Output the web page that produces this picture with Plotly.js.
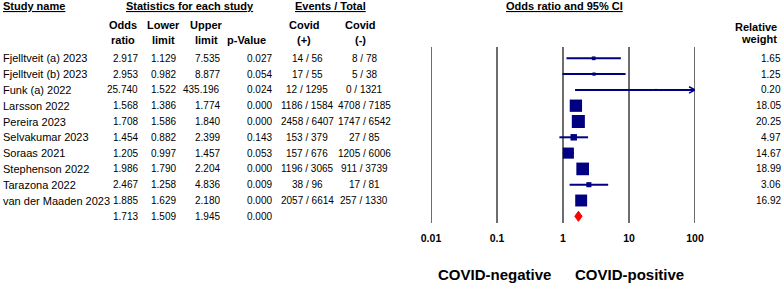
<!DOCTYPE html>
<html>
<head>
<meta charset="utf-8">
<script src="https://cdn.plot.ly/plotly-3.0.1.min.js"></script>
<style>html,body{margin:0;padding:0;background:#fff;overflow:hidden}#chart{width:784px;height:285px}</style>
</head>
<body>
<div id="chart"></div>
<script>
// ---- data ----
var studies = ["Fjelltveit (a) 2023","Fjelltveit (b) 2023","Funk (a) 2022","Larsson 2022","Pereira 2023","Selvakumar 2023","Soraas 2021","Stephenson 2022","Tarazona 2022","van der Maaden 2023"];
var oddsRatio = [2.917, 2.953, 25.740, 1.568, 1.708, 1.454, 1.205, 1.986, 2.467, 1.885];
var lowerLimit = [1.129, 0.982, 1.522, 1.386, 1.586, 0.882, 0.997, 1.790, 1.258, 1.629];
var upperLimit = [7.535, 8.877, 435.196, 1.774, 1.840, 2.399, 1.457, 2.204, 4.836, 2.180];
var pValue = [0.027, 0.054, 0.024, 0.000, 0.000, 0.143, 0.053, 0.000, 0.009, 0.000];
var covidPos = ["14 / 56","17 / 55","12 / 1295","1186 / 1584","2458 / 6407","153 / 379","157 / 676","1196 / 3065","38 / 96","2057 / 6614"];
var covidNeg = ["8 / 78","5 / 38","0 / 1321","4708 / 7185","1747 / 6542","27 / 85","1205 / 6006","911 / 3739","17 / 81","257 / 1330"];
var relWeight = [1.65, 1.25, 0.20, 18.05, 20.25, 4.97, 14.67, 18.99, 3.06, 16.92];
var summaryOR = 1.713, summaryLower = 1.509, summaryUpper = 1.945, summaryP = 0.000;
var tickVals = [0.01, 0.1, 1, 10, 100];
var tickLabels = ["0.01", "0.1", "1", "10", "100"];

// ---- layout helpers ----
var W = 784, H = 285;
var rowTop = 58.3, rowStep = 15.8;
function rowOf(p){ return (p - rowTop) / rowStep; }
var FONT = "Liberation Sans, Arial, sans-serif";
var navy = "#000080";
var xMin = 0.01, xMax = 100;
var x0px = 431, x1px = 695;
var nRows = studies.length;
var sumRow = nRows;

var traces = [];
// vertical reference lines
var gx = [], gy = [];
tickVals.forEach(function(t){ gx.push(t, t, null); gy.push(rowOf(47), rowOf(223), null); });
traces.push({x: gx, y: gy, mode: "lines", line: {color: "#3c3c3c", width: 1.5}, hoverinfo: "skip", cliponaxis: false});

// confidence-interval lines (clipped at the axis end, with an arrow)
var cx = [], cy = [];
var ax = [], ay = [];
for (var i = 0; i < nRows; i++) {
  var lo = Math.max(lowerLimit[i], xMin), hi = Math.min(upperLimit[i], xMax);
  cx.push(lo, hi, null); cy.push(i, i, null);
  if (upperLimit[i] > xMax) {
    var back = xMax / Math.pow(10, 0.09);
    ax.push(back, xMax, back, null); ay.push(i - 0.2, i, i + 0.2, null);
  }
}
traces.push({x: cx, y: cy, mode: "lines", line: {color: navy, width: 2}, hoverinfo: "skip", cliponaxis: false});
traces.push({x: ax, y: ay, mode: "lines", line: {color: navy, width: 1.5}, hoverinfo: "skip", cliponaxis: false});

// study squares, sized by relative weight
traces.push({
  x: oddsRatio, y: studies.map(function(s, i){ return i; }), mode: "markers",
  marker: {symbol: "square", color: navy, opacity: 1, size: relWeight.map(function(w){ return Math.max(2, 2.9 * Math.sqrt(w)); }), line: {width: 0}},
  hoverinfo: "skip", cliponaxis: false
});

// summary diamond
var dh = 0.32;
traces.push({
  x: [summaryLower, summaryOR, summaryUpper, summaryOR, summaryLower],
  y: [sumRow, sumRow - dh, sumRow, sumRow + dh, sumRow],
  mode: "lines", fill: "toself", fillcolor: "#ff0000", line: {color: "#ff0000", width: 1},
  hoverinfo: "skip", cliponaxis: false
});

// axis tick labels
traces.push({
  x: tickVals, y: tickVals.map(function(){ return rowOf(239); }), mode: "text", text: tickLabels.map(function(t){ return "<b>" + t + "</b>"; }),
  textfont: {family: FONT, size: 10.5, color: "#000"}, hoverinfo: "skip", cliponaxis: false
});

// ---- table text ----
var ann = [];
function addText(text, xpx, row, anchor, size, color) {
  ann.push({text: text, x: xpx / W, xref: "paper", y: row, yref: "y", xanchor: anchor, yanchor: "middle",
    showarrow: false, font: {family: FONT, size: size || 10, color: color || "#000"}});
}
addText("<b><u>Study name</u></b>", 1, rowOf(6), "left", 11);
addText("<b><u>Statistics for each study</u></b>", 190, rowOf(6), "center", 11);
addText("<b><u>Events / Total</u></b>", 330, rowOf(6), "center", 11);
addText("<b><u>Odds ratio and 95% CI</u></b>", 564, rowOf(6), "center", 11);
var colHeadTop = ["Odds", "Lower", "Upper", "", "Covid", "Covid"];
var colHeadBot = ["ratio", "limit", "limit", "p-Value", "(+)", "(-)"];
var colHeadX = [123, 163, 206, 246, 304, 360];
for (var c = 0; c < colHeadTop.length; c++) {
  if (colHeadTop[c]) addText("<b>" + colHeadTop[c] + "</b>", colHeadX[c], rowOf(25), "center", 11);
  addText("<b>" + colHeadBot[c] + "</b>", colHeadX[c], rowOf(40), "center", 11);
}
addText("<b>Relative</b>", 779, rowOf(27), "right", 11);
addText("<b>weight</b>", 779, rowOf(39), "right", 11);

for (var r = 0; r < nRows; r++) {
  addText(studies[r], 1, r, "left", 11);
  addText(oddsRatio[r].toFixed(3), 140, r, "right");
  addText(lowerLimit[r].toFixed(3), 178, r, "right");
  addText(upperLimit[r].toFixed(3), 222, r, "right");
  addText(pValue[r].toFixed(3), 274, r, "right");
  addText(covidPos[r], 307, r, "center");
  addText(covidNeg[r], 364, r, "center");
  addText(relWeight[r].toFixed(2), 783, r, "right");
}
addText(summaryOR.toFixed(3), 140, sumRow, "right");
addText(summaryLower.toFixed(3), 178, sumRow, "right");
addText(summaryUpper.toFixed(3), 222, sumRow, "right");
addText(summaryP.toFixed(3), 274, sumRow, "right");

addText("<b>COVID-negative</b>", 494.5, rowOf(274), "center", 15);
addText("<b>COVID-positive</b>", 629.5, rowOf(274), "center", 15);

var layout = {
  width: W, height: H, autosize: false, margin: {l: 0, r: 0, t: 0, b: 0, pad: 0, autoexpand: false},
  paper_bgcolor: "#fff", plot_bgcolor: "rgba(0,0,0,0)",
  showlegend: false,
  xaxis: {type: "log", range: [Math.log10(xMin), Math.log10(xMax)], domain: [x0px / W, x1px / W], visible: false, fixedrange: true},
  yaxis: {range: [rowOf(H), rowOf(0)], autorange: false, domain: [0, 1], visible: false, fixedrange: true},
  annotations: ann
};
Plotly.newPlot("chart", traces, layout, {displayModeBar: false, staticPlot: true});
</script>
</body>
</html>
